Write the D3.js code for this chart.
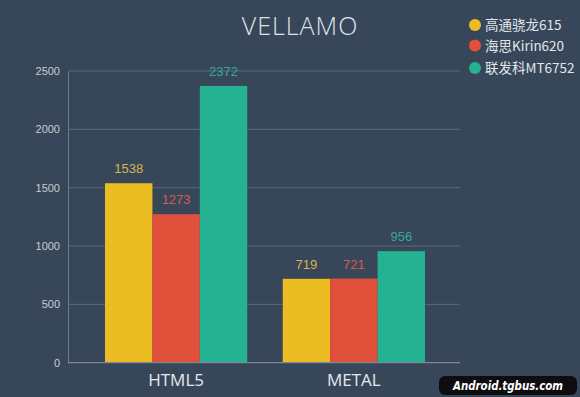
<!DOCTYPE html>
<html><head><meta charset="utf-8">
<script src="https://cdn.jsdelivr.net/npm/d3@7"></script>
<style>
html,body{margin:0;padding:0;background:#374759;}
svg{display:block;}
</style></head>
<body>
<script>
const categories = ["HTML5", "METAL"];
const seriesNames = ["高通骁龙615", "海思Kirin620", "联发科MT6752"];
const seriesColors = ["#ecbd22", "#e0503b", "#25b293"];
const labelColors = ["#d8b54a", "#d65a4e", "#38a995"];
const values = [
  [1538, 719],
  [1273, 721],
  [2372, 956]
];
const yTicks = [0, 500, 1000, 1500, 2000, 2500];
const title = "VELLAMO";
const watermark = "Android.tgbus.com";

const W = 580, H = 397;
const svg = d3.select("body").append("svg").attr("width", W).attr("height", H);
svg.append("rect").attr("width", W).attr("height", H).attr("fill", "#374759");

const plotL = 68, plotR = 460;
const y = d3.scaleLinear().domain([0, 2500]).range([362.7, 71]);
const x0 = d3.scaleBand().domain(categories).range([105, 425]).paddingInner(0.2).paddingOuter(0);
const x1 = d3.scaleBand().domain(d3.range(seriesNames.length)).range([0, x0.bandwidth()]).padding(0);

// gridlines
const g = svg.append("g");
g.selectAll("line.grid").data(yTicks.filter(d => d > 0)).join("line")
  .attr("x1", plotL).attr("x2", plotR)
  .attr("y1", d => y(d)).attr("y2", d => y(d))
  .attr("stroke", "#5a6a7c").attr("stroke-width", 1);

// y axis
const yAxis = d3.axisLeft(y).tickValues(yTicks).tickFormat(d3.format("d")).tickSize(0).tickPadding(8);
const ya = svg.append("g").attr("transform", `translate(${plotL},0)`).call(yAxis);
ya.select(".domain").attr("stroke", "#6c7b8c");
ya.selectAll("text").attr("fill", "#c8ccd2").attr("font-family", "Arial, 'Liberation Sans', sans-serif").attr("font-size", 11);

// bars
const groups = svg.append("g").selectAll("g").data(categories).join("g")
  .attr("transform", d => `translate(${x0(d)},0)`);
groups.each(function(cat, ci) {
  const gg = d3.select(this);
  seriesNames.forEach((s, si) => {
    const v = values[si][ci];
    gg.append("rect")
      .attr("x", x1(si)).attr("width", x1.bandwidth())
      .attr("y", y(v)).attr("height", y(0) - y(v))
      .attr("fill", seriesColors[si]);
    gg.append("text")
      .attr("x", x1(si) + x1.bandwidth() / 2)
      .attr("y", y(v) - 10)
      .attr("text-anchor", "middle")
      .attr("fill", labelColors[si])
      .attr("font-family", "Arial, 'Liberation Sans', sans-serif")
      .attr("font-size", 13)
      .text(v);
  });
});

// x axis
const xa = svg.append("g").attr("transform", `translate(0,${y(0)})`);
xa.append("line").attr("x1", plotL).attr("x2", plotR).attr("y1", 0).attr("y2", 0)
  .attr("stroke", "#7b8897").attr("stroke-width", 1.2);
xa.selectAll("text").data(categories).join("text")
  .attr("x", d => x0(d) + x0.bandwidth() / 2)
  .attr("y", 23)
  .attr("text-anchor", "middle")
  .attr("fill", "#e4e8ee")
  .attr("font-family", "'Open Sans', 'Noto Sans', sans-serif")
  .attr("font-size", 17)
  .text(d => d);

// title
svg.append("text").attr("x", 300).attr("y", 35).attr("text-anchor", "middle")
  .attr("fill", "#dde3ea").attr("font-family", "'Open Sans', 'Noto Sans', sans-serif")
  .attr("font-weight", 300).attr("font-size", 25).attr("letter-spacing", 1).text(title);

// legend
const leg = svg.append("g").selectAll("g").data(seriesNames).join("g")
  .attr("transform", (d, i) => `translate(475,${[25, 45.5, 68][i]})`);
leg.append("circle").attr("r", 6).attr("fill", (d, i) => seriesColors[i]);
leg.append("text").attr("x", 10).attr("y", 5).attr("fill", "#e2e6ec")
  .attr("font-family", "'Noto Sans CJK SC', 'Noto Sans', sans-serif")
  .attr("font-size", 13.5).text(d => d);

// watermark
svg.append("rect").attr("x", 439).attr("y", 376).attr("width", 138).attr("height", 19)
  .attr("rx", 6).attr("fill", "#0d0d0f");
svg.append("text").attr("x", 508).attr("y", 390).attr("text-anchor", "middle")
  .attr("fill", "#ffffff").attr("font-family", "'DejaVu Sans Condensed', 'DejaVu Sans', sans-serif")
  .attr("font-weight", "bold").attr("font-style", "italic").attr("font-size", 13)
  .attr("textLength", 110).attr("lengthAdjust", "spacingAndGlyphs")
  .text(watermark);
</script>
</body></html>
